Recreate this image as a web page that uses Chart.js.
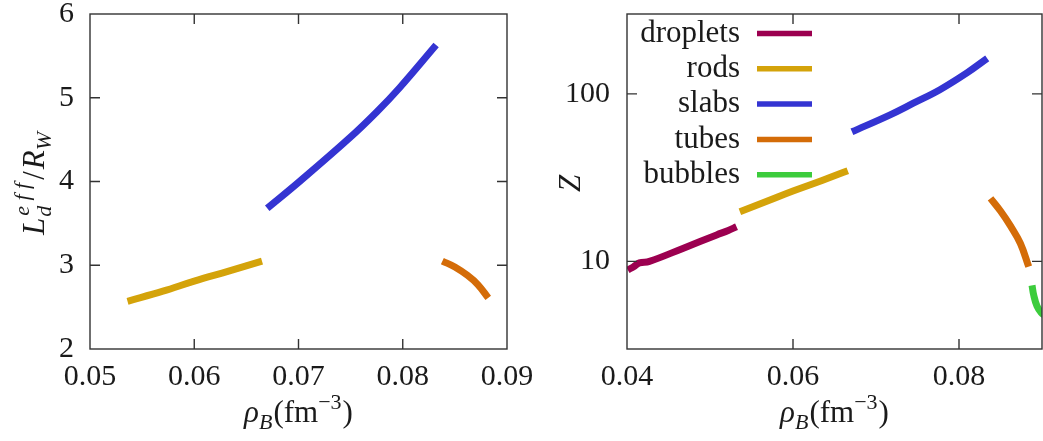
<!DOCTYPE html>
<html lang="en">
<head>
  <meta charset="UTF-8">
  <title>Pasta phases: L_d^eff/R_W and Z vs density</title>
  <script src="https://cdn.jsdelivr.net/npm/chart.js"></script>
  <style>
    html, body { margin: 0; padding: 0; background: #fff; }
    #wrap { position: relative; width: 1043px; height: 441px; overflow: hidden; }
    #left { position: absolute; left: 0; top: 0; }
    #right { position: absolute; left: 545px; top: 0; }
  </style>
</head>
<body>
  <div id="wrap">
    <canvas id="left" width="545" height="441"></canvas>
    <canvas id="right" width="498" height="441"></canvas>
  </div>

  <script>
    // ---- data ----
    // left panel: L_d^eff / R_W
    var lRodsX  = [0.0536, 0.0570, 0.0600, 0.0633, 0.0665];
    var lRodsY  = [2.57, 2.69, 2.81, 2.93, 3.05];
    var lSlabsX = [0.0670, 0.0701, 0.0749, 0.0775, 0.0797, 0.0832];
    var lSlabsY = [3.68, 4.00, 4.52, 4.83, 5.12, 5.63];
    var lTubesX = [0.0838, 0.0850, 0.0862, 0.0872, 0.0882];
    var lTubesY = [3.05, 2.98, 2.88, 2.77, 2.61];

    // right panel: Z (log scale)
    var dropletsX = [0.0401, 0.0408, 0.0415, 0.0427, 0.0468, 0.0508, 0.0522, 0.0532];
    var dropletsY = [8.9, 9.3, 9.8, 10.0, 12.0, 14.4, 15.3, 16.1];
    var rodsX     = [0.0536, 0.0570, 0.0600, 0.0635, 0.0666];
    var rodsY     = [19.8, 23.0, 26.3, 30.4, 34.8];
    var slabsX    = [0.0671, 0.0717, 0.0745, 0.0777, 0.0810, 0.0834];
    var slabsY    = [59.4, 75, 88, 106, 134, 163];
    var tubesX    = [0.0838, 0.0850, 0.0862, 0.0874, 0.0884];
    var tubesY    = [23.8, 20.0, 16.3, 12.8, 9.3];
    var bubblesX  = [0.0888, 0.0890, 0.0894, 0.0899, 0.0905];
    var bubblesY  = [7.2, 6.3, 5.4, 4.95, 4.7];

    var leftXTicks  = [0.05, 0.06, 0.07, 0.08, 0.09];
    var leftYTicks  = [2, 3, 4, 5, 6];
    var rightXTicks = [0.04, 0.06, 0.08];
    var rightYTicks = [10, 100];

    var colors = {
      droplets: '#9c0050',
      rods: '#d4a30a',
      slabs: '#3434d2',
      tubes: '#d46c08',
      bubbles: '#3ccc3c'
    };

    var SERIF = '"Liberation Serif", "DejaVu Serif", serif';
    var INK = '#1a1a1a';

    function series(label, xs, ys) {
      return {
        label: label,
        data: xs.map(function(x, i) { return { x: x, y: ys[i] }; }),
        borderColor: colors[label],
        backgroundColor: colors[label],
        borderWidth: 7,
        borderCapStyle: 'butt',
        pointRadius: 0,
        tension: 0.4,
        fill: false
      };
    }

    // fix axis box size so the plot area lands where the original one is
    function fixWidth(w) {
      return function(scale) {
        scale.width = w;
        scale.paddingTop = scale.paddingBottom = 0;
      };
    }
    function fixHeight(h) {
      return function(scale) {
        scale.height = h;
        scale.paddingLeft = scale.paddingRight = 0;
      };
    }
    function useTicks(list) {
      return function(scale) {
        scale.ticks = list.map(function(v) { return { value: v }; });
      };
    }

    // gnuplot style frame with inward ticks on all four sides
    var framePlugin = {
      id: 'frame',
      afterDatasetsDraw: function(chart) {
        var ctx = chart.ctx, a = chart.chartArea;
        var sx = chart.scales.x, sy = chart.scales.y;
        var len = 10;
        ctx.save();
        ctx.strokeStyle = '#333';
        ctx.lineWidth = 1.4;
        ctx.strokeRect(a.left, a.top, a.right - a.left, a.bottom - a.top);
        ctx.beginPath();
        sx.ticks.forEach(function(t) {
          var px = sx.getPixelForValue(t.value);
          if (px <= a.left + 1 || px >= a.right - 1) return;
          ctx.moveTo(px, a.bottom); ctx.lineTo(px, a.bottom - len);
          ctx.moveTo(px, a.top); ctx.lineTo(px, a.top + len);
        });
        sy.ticks.forEach(function(t) {
          var py = sy.getPixelForValue(t.value);
          if (py <= a.top + 1 || py >= a.bottom - 1) return;
          ctx.moveTo(a.left, py); ctx.lineTo(a.left + len, py);
          ctx.moveTo(a.right, py); ctx.lineTo(a.right - len, py);
        });
        ctx.stroke();
        ctx.restore();
      }
    };

    // text made of pieces (sub/superscripts), centred on (cx, cy)
    function richText(ctx, parts, cx, cy, rotate) {
      ctx.save();
      ctx.translate(cx, cy);
      if (rotate) ctx.rotate(-Math.PI / 2);
      ctx.fillStyle = INK;
      ctx.textBaseline = 'alphabetic';
      ctx.textAlign = 'left';
      var total = 0;
      parts.forEach(function(p) {
        ctx.font = (p.it ? 'italic ' : '') + (p.s || 31) + 'px ' + SERIF;
        if (p.stack) {
          var w1 = ctx.measureText(p.sub).width, w2 = ctx.measureText(p.sup).width;
          p.w = Math.max(w1, w2) + (p.gap || 0);
        } else {
          p.w = ctx.measureText(p.t).width + (p.gap || 0);
        }
        total += p.w;
      });
      var x = -total / 2;
      var base = 10;
      parts.forEach(function(p) {
        ctx.font = (p.it ? 'italic ' : '') + (p.s || 31) + 'px ' + SERIF;
        if (p.stack) {
          ctx.fillText(p.sup, x + 1, base - 15);
          ctx.fillText(p.sub, x, base + 7);
        } else {
          ctx.fillText(p.t, x, base + (p.dy || 0));
        }
        x += p.w;
      });
      ctx.restore();
    }

    var rhoTitle = [
      { t: 'ρ', it: true },
      { t: 'B', it: true, s: 22, dy: 7, gap: 1 },
      { t: '(fm' },
      { t: '−3', s: 22, dy: -13, gap: 1 },
      { t: ')' }
    ];

    function titlesPlugin(xTitle, yTitle, yPos) {
      return {
        id: 'titles',
        afterDraw: function(chart) {
          var a = chart.chartArea;
          richText(chart.ctx, xTitle, (a.left + a.right) / 2, 412, false);
          richText(chart.ctx, yTitle, yPos, (a.top + a.bottom) / 2 + 2, true);
        }
      };
    }

    // legend as in the original: label right-aligned, then a line sample
    var keyPlugin = {
      id: 'key',
      afterDraw: function(chart) {
        var ctx = chart.ctx;
        ctx.save();
        ctx.font = '31px ' + SERIF;
        ctx.textAlign = 'right';
        ctx.textBaseline = 'middle';
        chart.data.datasets.forEach(function(ds, i) {
          var y = 33.5 + i * 35.3;
          ctx.fillStyle = INK;
          ctx.fillText(ds.label, 195, y);
          ctx.strokeStyle = ds.borderColor;
          ctx.lineWidth = 5.5;
          ctx.beginPath();
          ctx.moveTo(212, y);
          ctx.lineTo(267, y);
          ctx.stroke();
        });
        ctx.restore();
      }
    };

    var tickFont = { family: SERIF, size: 30 };

    // ---- left chart ----
    new Chart(document.getElementById('left'), {
      type: 'line',
      data: {
        datasets: [
          series('rods', lRodsX, lRodsY),
          series('slabs', lSlabsX, lSlabsY),
          series('tubes', lTubesX, lTubesY)
        ]
      },
      options: {
        responsive: false,
        animation: false,
        devicePixelRatio: 1,
        layout: { padding: { top: 14, right: 38, left: 0, bottom: 0 } },
        plugins: { legend: { display: false }, tooltip: { enabled: false } },
        scales: {
          x: {
            type: 'linear', min: 0.05, max: 0.09,
            afterBuildTicks: useTicks(leftXTicks),
            afterFit: fixHeight(92),
            grid: { display: false, drawTicks: false },
            border: { display: false },
            ticks: {
              font: tickFont, color: INK, padding: 10, maxRotation: 0,
              callback: function(v) { return v.toFixed(2); }
            }
          },
          y: {
            type: 'linear', min: 2, max: 6,
            afterBuildTicks: useTicks(leftYTicks),
            afterFit: fixWidth(90),
            grid: { display: false, drawTicks: false },
            border: { display: false },
            ticks: { font: tickFont, color: INK, padding: 16 }
          }
        }
      },
      plugins: [framePlugin, titlesPlugin(rhoTitle, [
        { t: 'L', it: true, gap: 1 },
        { stack: true, sup: 'e f f', sub: 'd', it: true, s: 22, gap: 4 },
        { t: '/', gap: 2 },
        { t: 'R', it: true },
        { t: 'W', it: true, s: 22, dy: 7 }
      ], 34)]
    });

    // ---- right chart ----
    new Chart(document.getElementById('right'), {
      type: 'line',
      data: {
        datasets: [
          series('droplets', dropletsX, dropletsY),
          series('rods', rodsX, rodsY),
          series('slabs', slabsX, slabsY),
          series('tubes', tubesX, tubesY),
          series('bubbles', bubblesX, bubblesY)
        ]
      },
      options: {
        responsive: false,
        animation: false,
        devicePixelRatio: 1,
        layout: { padding: { top: 14, right: 1, left: 0, bottom: 0 } },
        plugins: { legend: { display: false }, tooltip: { enabled: false } },
        scales: {
          x: {
            type: 'linear', min: 0.04, max: 0.09,
            afterBuildTicks: useTicks(rightXTicks),
            afterFit: fixHeight(92),
            grid: { display: false, drawTicks: false },
            border: { display: false },
            ticks: {
              font: tickFont, color: INK, padding: 10, maxRotation: 0,
              callback: function(v) { return v.toFixed(2); }
            }
          },
          y: {
            type: 'logarithmic', min: 3, max: 300,
            afterBuildTicks: useTicks(rightYTicks),
            afterFit: fixWidth(82),
            grid: { display: false, drawTicks: false },
            border: { display: false },
            ticks: {
              font: tickFont, color: INK, padding: 17,
              callback: function(v) { return String(v); }
            }
          }
        }
      },
      plugins: [framePlugin, keyPlugin, titlesPlugin(rhoTitle, [
        { t: 'Z', it: true }
      ], 25)]
    });
  </script>
</body>
</html>
